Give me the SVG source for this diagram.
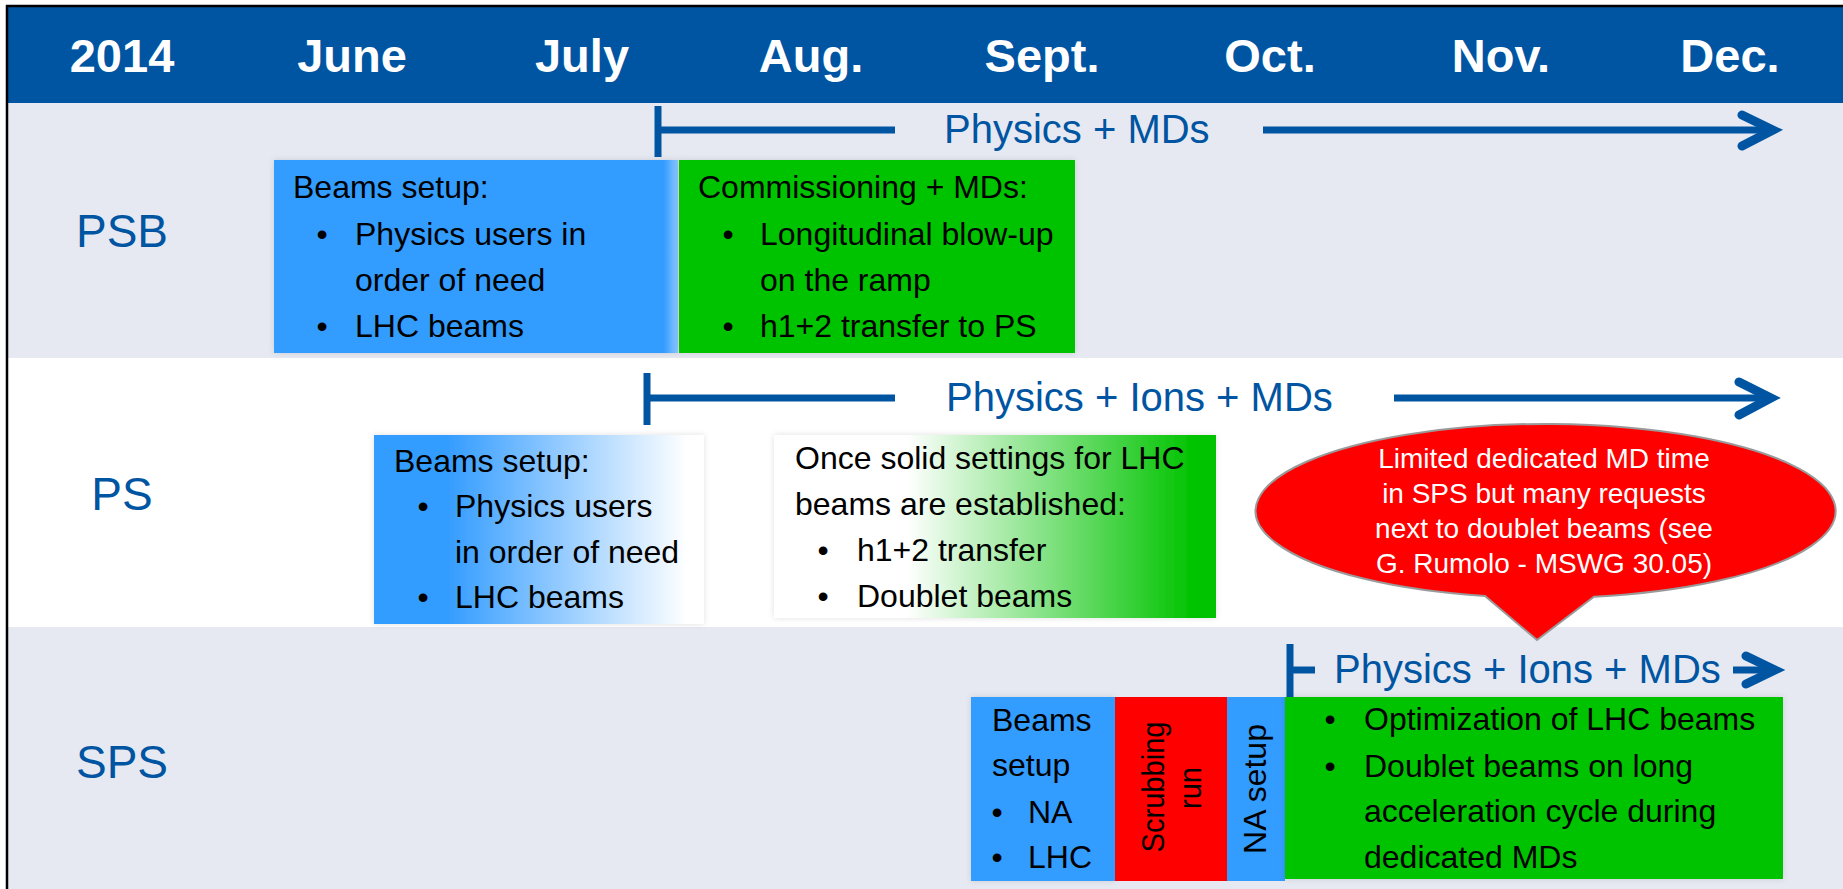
<svg xmlns="http://www.w3.org/2000/svg" width="1843" height="889" viewBox="0 0 1843 889">
<style>
.hd{font-family:"Liberation Sans",Arial,sans-serif;font-weight:bold;font-size:47px;fill:#fff;text-anchor:middle}
.rl{font-family:"Liberation Sans",Arial,sans-serif;font-size:46px;fill:#0055A2;text-anchor:middle}
.tl{font-family:"Liberation Sans",Arial,sans-serif;font-size:40px;fill:#0055A2}
.bx{font-family:"Liberation Sans",Arial,sans-serif;font-size:32px;fill:#000}
.bu{font-family:"Liberation Sans",Arial,sans-serif;font-size:32px;fill:#000;text-anchor:middle}
.co{font-family:"Liberation Sans",Arial,sans-serif;font-size:28px;fill:#fff;text-anchor:middle}
.ln{stroke:#0055A2;stroke-width:7;fill:none}
.hdw{stroke:#0055A2;stroke-width:9;fill:none;stroke-linecap:round;stroke-linejoin:miter}
</style>
<defs>
<filter id="sh" x="-5%" y="-5%" width="110%" height="110%">
<feDropShadow dx="0" dy="0" stdDeviation="3" flood-color="#000" flood-opacity="0.12"/>
</filter>
<linearGradient id="gBlueEdge" x1="0" y1="0" x2="1" y2="0">
<stop offset="0" stop-color="#339CFF"/>
<stop offset="0.965" stop-color="#339CFF"/>
<stop offset="1" stop-color="#8CC6FF"/>
</linearGradient>
<linearGradient id="gBlueFade" x1="0" y1="0" x2="1" y2="0">
<stop offset="0" stop-color="#339CFF"/>
<stop offset="0.22" stop-color="#339CFF"/>
<stop offset="0.95" stop-color="#FFFFFF"/>
<stop offset="1" stop-color="#FFFFFF"/>
</linearGradient>
<linearGradient id="gGreenFade" x1="0" y1="0" x2="1" y2="0">
<stop offset="0" stop-color="#FFFFFF"/>
<stop offset="0.3" stop-color="#FFFFFF"/>
<stop offset="0.95" stop-color="#00C300"/>
<stop offset="1" stop-color="#00C300"/>
</linearGradient>
</defs>

<rect x="0" y="0" width="1843" height="889" fill="#fff"/>

<g id="rows">
<rect x="7" y="103" width="1836" height="255" fill="#E6E9F1"/>
<rect x="7" y="358" width="1836" height="269" fill="#FFFFFF"/>
<rect x="7" y="627" width="1836" height="262" fill="#E6E9F1"/>
</g>

<g id="header">
<rect x="7" y="7" width="1836" height="96" fill="#0055A2"/>
<text class="hd" x="122" y="72">2014</text>
<text class="hd" x="352" y="72">June</text>
<text class="hd" x="582" y="72">July</text>
<text class="hd" x="811" y="72">Aug.</text>
<text class="hd" x="1042" y="72">Sept.</text>
<text class="hd" x="1270" y="72">Oct.</text>
<text class="hd" x="1501" y="72">Nov.</text>
<text class="hd" x="1730" y="72">Dec.</text>
</g>

<g id="frame">
<line x1="6" y1="6" x2="1843" y2="6" stroke="#000" stroke-width="2.5"/>
<line x1="7" y1="5" x2="7" y2="889" stroke="#000" stroke-width="2.5"/>
</g>

<g id="row-labels">
<text class="rl" x="122" y="247">PSB</text>
<text class="rl" x="122" y="510">PS</text>
<text class="rl" x="122" y="778">SPS</text>
</g>

<g id="connectors">
<g id="psb-timeline">
<line class="ln" x1="658" y1="106" x2="658" y2="157"/>
<line class="ln" x1="658" y1="130" x2="895" y2="130"/>
<text class="tl" x="944" y="143">Physics + MDs</text>
<line class="ln" x1="1263" y1="130" x2="1770" y2="130"/>
<polyline class="hdw" points="1742,115 1773,130 1742,146"/>
</g>
<g id="ps-timeline">
<line class="ln" x1="647" y1="373" x2="647" y2="425"/>
<line class="ln" x1="647" y1="398" x2="895" y2="398"/>
<text class="tl" x="946" y="411">Physics + Ions + MDs</text>
<line class="ln" x1="1394" y1="398" x2="1768" y2="398"/>
<polyline class="hdw" points="1739,382 1771,398 1739,415"/>
</g>
<g id="sps-timeline">
<line class="ln" x1="1290" y1="644" x2="1290" y2="697" stroke-width="8"/>
<line class="ln" x1="1290" y1="670" x2="1315" y2="670"/>
<text class="tl" x="1334" y="683">Physics + Ions + MDs</text>
<line class="ln" x1="1733" y1="670" x2="1768" y2="670" stroke-width="10"/>
<polyline class="hdw" points="1746,656 1775,670 1746,684" stroke-width="11"/>
</g>
</g>

<g id="psb-beams-setup">
<rect x="274" y="160" width="404" height="193" fill="url(#gBlueEdge)" filter="url(#sh)"/>
<text class="bx" x="293" y="198">Beams setup:</text>
<text class="bu" x="322" y="245">•</text>
<text class="bx" x="355" y="245">Physics users in</text>
<text class="bx" x="355" y="291">order of need</text>
<text class="bu" x="322" y="337">•</text>
<text class="bx" x="355" y="337">LHC beams</text>
</g>

<g id="psb-commissioning">
<rect x="679" y="160" width="396" height="193" fill="#00C300" filter="url(#sh)"/>
<text class="bx" x="698" y="198">Commissioning + MDs:</text>
<text class="bu" x="728" y="245">•</text>
<text class="bx" x="760" y="245">Longitudinal blow-up</text>
<text class="bx" x="760" y="291">on the ramp</text>
<text class="bu" x="728" y="337">•</text>
<text class="bx" x="760" y="337">h1+2 transfer to PS</text>
</g>

<g id="ps-beams-setup">
<rect x="374" y="435" width="330" height="189" fill="url(#gBlueFade)" filter="url(#sh)"/>
<text class="bx" x="394" y="472">Beams setup:</text>
<text class="bu" x="423" y="517">•</text>
<text class="bx" x="455" y="517">Physics users</text>
<text class="bx" x="455" y="563">in order of need</text>
<text class="bu" x="423" y="608">•</text>
<text class="bx" x="455" y="608">LHC beams</text>
</g>

<g id="ps-lhc-settings">
<rect x="774" y="435" width="442" height="183" fill="url(#gGreenFade)" filter="url(#sh)"/>
<text class="bx" x="795" y="469">Once solid settings for LHC</text>
<text class="bx" x="795" y="515">beams are established:</text>
<text class="bu" x="823" y="561">•</text>
<text class="bx" x="857" y="561">h1+2 transfer</text>
<text class="bu" x="823" y="607">•</text>
<text class="bx" x="857" y="607">Doublet beams</text>
</g>

<g id="callout">
<path d="M1485 596 A290 87 0 1 1 1594 596.7 L1537 640 Z" fill="#FF0000" stroke="#9A9A9A" stroke-width="2"/>
<text class="co" x="1544" y="468">Limited dedicated MD time</text>
<text class="co" x="1544" y="503">in SPS but many requests</text>
<text class="co" x="1544" y="538">next to doublet beams (see</text>
<text class="co" x="1544" y="573">G. Rumolo - MSWG 30.05)</text>
</g>

<g id="sps-beams-setup">
<rect x="971" y="697" width="144" height="184" fill="#339CFF" filter="url(#sh)"/>
<text class="bx" x="992" y="731">Beams</text>
<text class="bx" x="992" y="776">setup</text>
<text class="bu" x="997" y="823">•</text>
<text class="bx" x="1028" y="823">NA</text>
<text class="bu" x="997" y="868">•</text>
<text class="bx" x="1028" y="868">LHC</text>
</g>

<g id="sps-scrubbing-run">
<rect x="1115" y="697" width="112" height="184" fill="#FF0000"/>
<text class="bx" text-anchor="middle" font-size="37" transform="translate(1164,787) rotate(-90) scale(0.91,1)">Scrubbing</text>
<text class="bx" text-anchor="middle" font-size="37" transform="translate(1201,788) rotate(-90) scale(0.91,1)">run</text>
</g>

<g id="sps-na-setup">
<rect x="1227" y="697" width="58" height="184" fill="#339CFF"/>
<text class="bx" text-anchor="middle" font-size="31" transform="translate(1266,789) rotate(-90)">NA setup</text>
</g>

<g id="sps-physics">
<rect x="1285" y="697" width="498" height="182" fill="#00C300" filter="url(#sh)"/>
<text class="bu" x="1330" y="730">•</text>
<text class="bx" x="1364" y="730">Optimization of LHC beams</text>
<text class="bu" x="1330" y="777">•</text>
<text class="bx" x="1364" y="777">Doublet beams on long</text>
<text class="bx" x="1364" y="822">acceleration cycle during</text>
<text class="bx" x="1364" y="868">dedicated MDs</text>
</g>
</svg>
